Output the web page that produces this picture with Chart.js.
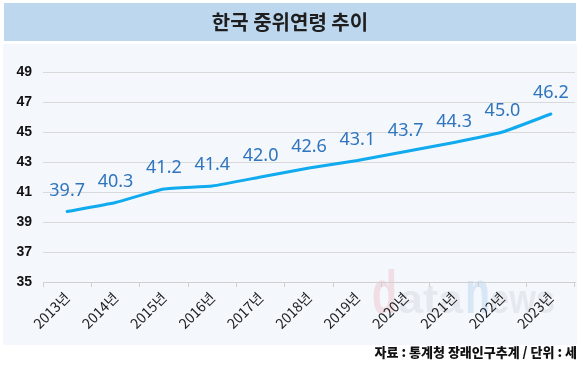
<!DOCTYPE html>
<html>
<head>
<meta charset="utf-8">
<script src="https://cdn.jsdelivr.net/npm/chart.js@4"></script>
<style>
html,body{margin:0;padding:0;background:#ffffff;}
#wrap{position:relative;width:580px;height:368px;}
</style>
</head>
<body>
<div id="wrap"><canvas id="c" width="580" height="368"></canvas></div>
<script>
const categories = ['2013년','2014년','2015년','2016년','2017년','2018년','2019년','2020년','2021년','2022년','2023년'];
const medianAge = [39.7, 40.3, 41.2, 41.4, 42.0, 42.6, 43.1, 43.7, 44.3, 45.0, 46.2];
const yMin = 35, yMax = 49, yStep = 2;
const titleText = '한국 중위연령 추이';
const sourceText = '자료 : 통계청 장래인구추계 / 단위 : 세';

const KR = '"Noto Sans CJK KR", "Noto Sans", sans-serif';

const decor = {
  id: 'decor',
  beforeDraw(chart) {
    const ctx = chart.ctx;
    ctx.save();
    ctx.fillStyle = '#ffffff';
    ctx.fillRect(0, 0, 580, 368);
    ctx.fillStyle = '#bdd7ee';
    ctx.fillRect(4, 3, 572, 38);
    ctx.fillStyle = '#f4f7fc';
    ctx.fillRect(3, 44, 574, 301);
    ctx.fillStyle = '#1e1e1e';
    ctx.font = 'bold 20px ' + KR;
    ctx.textAlign = 'center';
    ctx.textBaseline = 'middle';
    ctx.fillText(titleText, 290, 22);
    ctx.font = '900 13px ' + KR;
    ctx.textAlign = 'right';
    ctx.fillStyle = '#111111';
    ctx.fillText(sourceText, 577, 352);
    const pieces = [
      {t:'d', x0:372, x1:397, color:'rgba(236,170,180,0.32)', size:62},
      {t:'ata', x0:398, x1:463, color:'rgba(200,205,214,0.35)', size:40},
      {t:'n', x0:465, x1:490, color:'rgba(160,200,235,0.35)', size:62},
      {t:'ews', x0:490, x1:555, color:'rgba(200,205,214,0.35)', size:40}
    ];
    ctx.textAlign = 'left';
    ctx.textBaseline = 'alphabetic';
    pieces.forEach(p => {
      ctx.font = 'bold ' + p.size + 'px "Liberation Sans", sans-serif';
      const w = ctx.measureText(p.t).width;
      ctx.save();
      ctx.translate(p.x0, 313);
      ctx.scale((p.x1 - p.x0) / w, 1);
      ctx.fillStyle = p.color;
      ctx.fillText(p.t, 0, 0);
      ctx.restore();
    });
    ctx.restore();
  },
  afterDatasetsDraw(chart) {
    const ctx = chart.ctx;
    const meta = chart.getDatasetMeta(0);
    ctx.save();
    ctx.fillStyle = '#2f75bd';
    ctx.font = '18px "Noto Sans", sans-serif';
    ctx.textAlign = 'center';
    ctx.textBaseline = 'middle';
    meta.data.forEach((pt, i) => {
      ctx.fillText(medianAge[i].toFixed(1), pt.x, pt.y - 21);
    });
    ctx.restore();
  }
};

new Chart(document.getElementById('c'), {
  type: 'line',
  data: {
    labels: categories,
    datasets: [{
      data: medianAge,
      borderColor: '#10aaee',
      borderWidth: 3,
      pointRadius: 0,
      tension: 0.15,
      borderCapStyle: 'round',
      borderJoinStyle: 'round',
      fill: false
    }]
  },
  options: {
    responsive: false,
    animation: false,
    devicePixelRatio: 1,
    layout: { padding: { top: 72, right: 5, left: 0, bottom: 0 } },
    plugins: { legend: { display: false }, tooltip: { enabled: false }, title: { display: false } },
    scales: {
      x: {
        offset: true,
        grid: { display: true, drawOnChartArea: false, drawTicks: true, tickLength: 5, color: '#d0d0d0', offset: true },
        border: { display: true, color: '#d0d0d0', width: 1 },
        ticks: {
          minRotation: 45, maxRotation: 45, autoSkip: false,
          color: '#222222', font: { size: 14, family: KR }, padding: 2
        },
        afterFit(s) { s.height = 86; }
      },
      y: {
        min: yMin, max: yMax,
        grid: { color: '#d9d9d9', drawTicks: false, lineWidth: 1 },
        border: { display: false },
        ticks: {
          stepSize: yStep, color: '#111111', padding: 11,
          font: { size: 14, weight: 'bold', family: '"Liberation Sans", sans-serif' }
        },
        afterFit(s) { s.width = 43; }
      }
    }
  },
  plugins: [decor]
});
</script>
</body>
</html>
